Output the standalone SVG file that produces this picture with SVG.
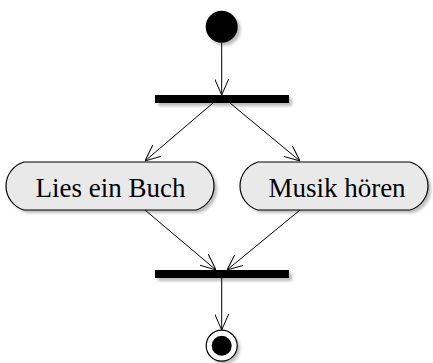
<svg xmlns="http://www.w3.org/2000/svg" width="433" height="363" viewBox="0 0 433 363">
<style>
.bar{fill:#000}
.node{fill:#e9e9e9;stroke:#000;stroke-width:1.2}
.lbl{font-family:"Liberation Serif",serif;font-size:27px;fill:#000;text-anchor:middle}
.edge{fill:none;stroke:#000;stroke-width:1}
.sh{fill:#bbb;filter:url(#blur)}
</style>
<defs>
<filter id="blur" x="-20%" y="-20%" width="140%" height="140%"><feGaussianBlur stdDeviation="1.5"/></filter>
<marker id="arr" viewBox="0 0 16 14" refX="16" refY="7" markerWidth="16" markerHeight="14" markerUnits="userSpaceOnUse" orient="auto">
<path d="M0,0 L16,7 L0,14" fill="none" stroke="#000" stroke-width="1"/>
</marker>
</defs>
<g id="start">
<circle class="sh" cx="224.5" cy="29.5" r="16"/>
<circle cx="221.7" cy="26.7" r="16" fill="#000"/>
</g>
<g id="fork">
<rect class="sh" x="158" y="98" width="134" height="8"/>
<rect class="bar" x="155" y="95" width="134" height="8"/>
</g>
<g id="node1">
<path class="sh" d="M27,165 H199 A25,25 0 0 1 199,213 H27 A25,25 0 0 1 27,165 Z"/>
<path class="node" d="M24,162 H196 A25,25 0 0 1 196,210 H24 A25,25 0 0 1 24,162 Z"/>
<text class="lbl" x="110.5" y="196.5">Lies ein Buch</text>
</g>
<g id="node2">
<path class="sh" d="M261,165 H413 A25,25 0 0 1 413,213 H261 A25,25 0 0 1 261,165 Z"/>
<path class="node" d="M258,162 H410 A25,25 0 0 1 410,210 H258 A25,25 0 0 1 258,162 Z"/>
<text class="lbl" x="337" y="196.5">Musik hören</text>
</g>
<g id="join">
<rect class="sh" x="158" y="273" width="134" height="8"/>
<rect class="bar" x="155" y="270" width="134" height="8"/>
</g>
<g id="end">
<circle class="sh" cx="224.5" cy="348.5" r="15.5"/>
<circle cx="221.7" cy="345.7" r="15.5" fill="#fff" stroke="#000" stroke-width="1.2"/>
<circle cx="221.7" cy="345.7" r="10" fill="#000"/>
</g>
<g id="edges">
<path class="edge" marker-end="url(#arr)" d="M221.7,43 L221.7,95"/>
<path class="edge" marker-end="url(#arr)" d="M213,103 L145,161"/>
<path class="edge" marker-end="url(#arr)" d="M230,103 L300,161"/>
<path class="edge" marker-end="url(#arr)" d="M145,210 L216,270"/>
<path class="edge" marker-end="url(#arr)" d="M300,210 L227,270"/>
<path class="edge" marker-end="url(#arr)" d="M221.7,278 L221.7,330"/>
</g>
</svg>
